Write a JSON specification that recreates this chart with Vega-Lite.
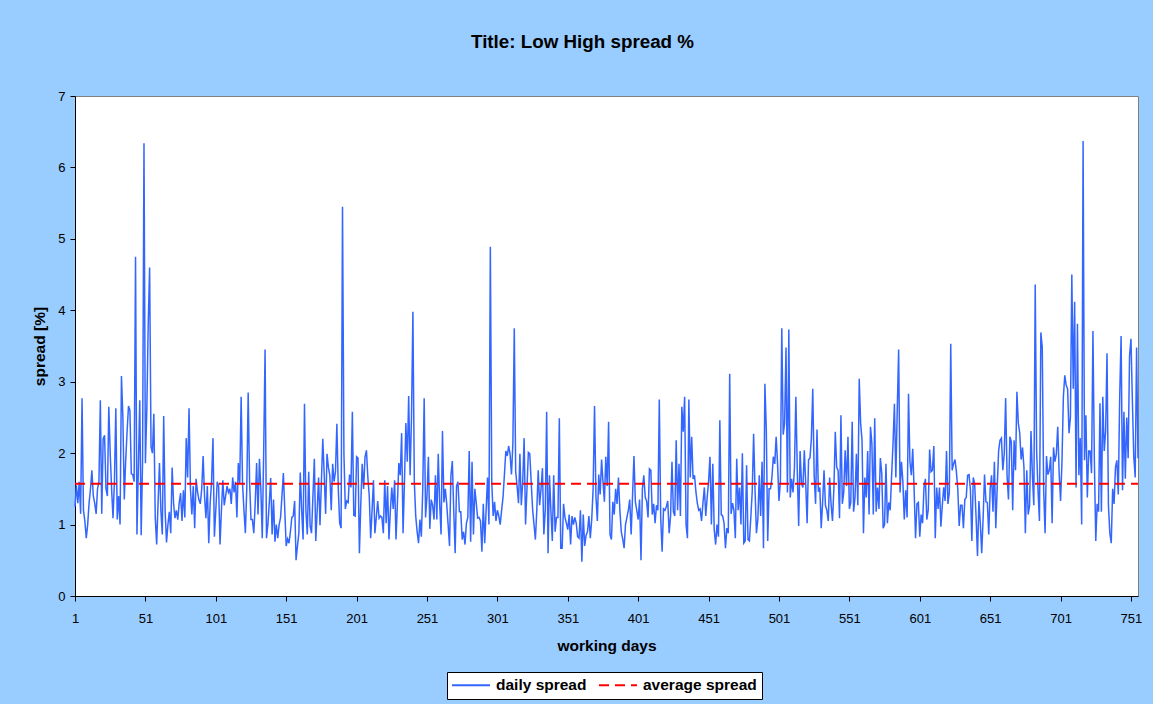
{
"$schema":"https://vega.github.io/schema/vega-lite/v6.json",
"width":1063,"height":500,
"autosize":"none",
"padding":{"left":75,"top":96,"right":15,"bottom":108},
"background":"#99CCFF",
"title":{"text":"Title: Low High spread %","fontSize":18.8,"fontWeight":"bold","font":"Liberation Sans","color":"black","offset":38,"dx":-24,"anchor":"middle"},
"config":{
"font":"Liberation Sans",
"view":{"fill":"white","stroke":"#808080","strokeWidth":1},
"axis":{"grid":false,"domainColor":"black","tickColor":"black","labelColor":"black","titleColor":"black","tickSize":5,"labelFont":"Liberation Sans","titleFont":"Liberation Sans","labelFontSize":13,"titleFontSize":15.5,"titleFontWeight":"bold"},
"legend":{"orient":"none","legendX":372,"legendY":576,"direction":"horizontal","fillColor":"white","strokeColor":"black","padding":5,"symbolType":"M-1.55,0H6.05","symbolSize":100,"symbolStrokeWidth":2,"labelFont":"Liberation Sans","labelFontSize":15.5,"labelFontWeight":"bold","labelColor":"black","labelOffset":28.5,"columnPadding":8}
},
"encoding":{
"x":{"field":"d","type":"quantitative","scale":{"domain":[1,756],"nice":false,"zero":false},"axis":{"values":[1,51,101,151,201,251,301,351,401,451,501,551,601,651,701,751],"title":"working days","labelPadding":11,"titlePadding":13,"labelFlush":false}},
"y":{"field":"v","type":"quantitative","scale":{"domain":[0,7],"nice":false},"axis":{"values":[0,1,2,3,4,5,6,7],"title":"spread [%]","labelPadding":5,"titlePadding":10}}
},
"layer":[
{"data":{"values":[
{"d":1,"v":1.25},{"d":2,"v":1.55},{"d":3,"v":1.3},{"d":4,"v":1.6},{"d":5,"v":1.15},{"d":6,"v":2.77},{"d":7,"v":1.2},{"d":8,"v":1.05},{"d":9,"v":0.81},{"d":10,"v":1.0},
{"d":11,"v":1.3},{"d":12,"v":1.5},{"d":13,"v":1.76},{"d":14,"v":1.4},{"d":15,"v":1.3},{"d":16,"v":1.15},{"d":17,"v":1.5},{"d":18,"v":1.6},{"d":19,"v":2.74},{"d":20,"v":1.15},
{"d":21,"v":2.2},{"d":22,"v":2.25},{"d":23,"v":1.5},{"d":24,"v":1.4},{"d":25,"v":2.65},{"d":26,"v":2.0},{"d":27,"v":1.5},{"d":28,"v":1.09},{"d":29,"v":1.6},{"d":30,"v":2.63},
{"d":31,"v":1.07},{"d":32,"v":1.4},{"d":33,"v":1.0},{"d":34,"v":3.08},{"d":35,"v":2.5},{"d":36,"v":1.35},{"d":37,"v":1.9},{"d":38,"v":2.3},{"d":39,"v":2.66},{"d":40,"v":2.6},
{"d":41,"v":1.71},{"d":42,"v":1.7},{"d":43,"v":1.6},{"d":44,"v":4.75},{"d":45,"v":0.86},{"d":46,"v":1.8},{"d":47,"v":2.74},{"d":48,"v":0.85},{"d":49,"v":1.9},{"d":50,"v":6.34},
{"d":51,"v":1.86},{"d":52,"v":2.6},{"d":53,"v":3.8},{"d":54,"v":4.6},{"d":55,"v":2.09},{"d":56,"v":2.0},{"d":57,"v":2.55},{"d":58,"v":1.1},{"d":59,"v":0.72},{"d":60,"v":1.3},
{"d":61,"v":1.86},{"d":62,"v":1.2},{"d":63,"v":0.86},{"d":64,"v":2.52},{"d":65,"v":1.2},{"d":66,"v":0.75},{"d":67,"v":1.0},{"d":68,"v":1.18},{"d":69,"v":0.88},{"d":70,"v":1.8},
{"d":71,"v":1.3},{"d":72,"v":1.09},{"d":73,"v":1.2},{"d":74,"v":1.07},{"d":75,"v":1.3},{"d":76,"v":1.44},{"d":77,"v":1.05},{"d":78,"v":1.48},{"d":79,"v":1.1},{"d":80,"v":2.21},
{"d":81,"v":1.66},{"d":82,"v":2.63},{"d":83,"v":1.5},{"d":84,"v":1.14},{"d":85,"v":1.54},{"d":86,"v":0.95},{"d":87,"v":1.64},{"d":88,"v":1.46},{"d":89,"v":1.35},{"d":90,"v":1.29},
{"d":91,"v":1.5},{"d":92,"v":1.96},{"d":93,"v":1.4},{"d":94,"v":1.09},{"d":95,"v":1.54},{"d":96,"v":0.74},{"d":97,"v":1.3},{"d":98,"v":1.6},{"d":99,"v":2.21},{"d":100,"v":0.83},
{"d":101,"v":1.2},{"d":102,"v":1.6},{"d":103,"v":1.54},{"d":104,"v":0.72},{"d":105,"v":1.2},{"d":106,"v":1.62},{"d":107,"v":1.27},{"d":108,"v":1.4},{"d":109,"v":1.54},{"d":110,"v":1.45},
{"d":111,"v":1.5},{"d":112,"v":1.29},{"d":113,"v":1.66},{"d":114,"v":1.45},{"d":115,"v":1.6},{"d":116,"v":1.1},{"d":117,"v":1.86},{"d":118,"v":1.57},{"d":119,"v":2.79},{"d":120,"v":1.57},
{"d":121,"v":1.2},{"d":122,"v":0.88},{"d":123,"v":1.5},{"d":124,"v":2.85},{"d":125,"v":1.6},{"d":126,"v":1.07},{"d":127,"v":1.07},{"d":128,"v":0.88},{"d":129,"v":1.3},{"d":130,"v":1.86},
{"d":131,"v":1.14},{"d":132,"v":1.92},{"d":133,"v":1.5},{"d":134,"v":0.81},{"d":135,"v":2.0},{"d":136,"v":3.45},{"d":137,"v":0.81},{"d":138,"v":1.0},{"d":139,"v":1.31},{"d":140,"v":1.65},
{"d":141,"v":0.86},{"d":142,"v":1.35},{"d":143,"v":0.76},{"d":144,"v":1.0},{"d":145,"v":0.81},{"d":146,"v":1.0},{"d":147,"v":1.1},{"d":148,"v":1.4},{"d":149,"v":1.72},{"d":150,"v":1.2},
{"d":151,"v":0.7},{"d":152,"v":0.8},{"d":153,"v":0.74},{"d":154,"v":0.9},{"d":155,"v":1.1},{"d":156,"v":1.12},{"d":157,"v":1.33},{"d":158,"v":0.5},{"d":159,"v":0.7},{"d":160,"v":0.88},
{"d":161,"v":1.73},{"d":162,"v":1.2},{"d":163,"v":0.79},{"d":164,"v":2.69},{"d":165,"v":1.2},{"d":166,"v":0.86},{"d":167,"v":1.74},{"d":168,"v":0.98},{"d":169,"v":0.88},{"d":170,"v":1.4},
{"d":171,"v":1.92},{"d":172,"v":0.77},{"d":173,"v":1.2},{"d":174,"v":1.66},{"d":175,"v":0.99},{"d":176,"v":1.6},{"d":177,"v":2.2},{"d":178,"v":1.7},{"d":179,"v":1.15},{"d":180,"v":1.99},
{"d":181,"v":1.8},{"d":182,"v":1.69},{"d":183,"v":1.2},{"d":184,"v":1.85},{"d":185,"v":1.6},{"d":186,"v":1.74},{"d":187,"v":2.41},{"d":188,"v":1.5},{"d":189,"v":1.02},{"d":190,"v":0.95},
{"d":191,"v":5.45},{"d":192,"v":2.0},{"d":193,"v":1.22},{"d":194,"v":1.33},{"d":195,"v":1.31},{"d":196,"v":1.7},{"d":197,"v":1.52},{"d":198,"v":2.58},{"d":199,"v":1.13},{"d":200,"v":1.12},
{"d":201,"v":1.95},{"d":202,"v":1.93},{"d":203,"v":0.6},{"d":204,"v":1.3},{"d":205,"v":1.85},{"d":206,"v":1.5},{"d":207,"v":1.95},{"d":208,"v":2.04},{"d":209,"v":1.66},{"d":210,"v":1.4},
{"d":211,"v":0.81},{"d":212,"v":1.2},{"d":213,"v":1.62},{"d":214,"v":0.88},{"d":215,"v":1.1},{"d":216,"v":1.33},{"d":217,"v":1.09},{"d":218,"v":1.12},{"d":219,"v":1.1},{"d":220,"v":0.88},
{"d":221,"v":1.62},{"d":222,"v":1.02},{"d":223,"v":1.54},{"d":224,"v":0.79},{"d":225,"v":1.2},{"d":226,"v":1.52},{"d":227,"v":1.22},{"d":228,"v":1.62},{"d":229,"v":0.79},{"d":230,"v":1.3},
{"d":231,"v":1.86},{"d":232,"v":1.69},{"d":233,"v":2.28},{"d":234,"v":0.88},{"d":235,"v":1.6},{"d":236,"v":2.42},{"d":237,"v":1.88},{"d":238,"v":2.8},{"d":239,"v":1.69},{"d":240,"v":2.5},
{"d":241,"v":3.98},{"d":242,"v":1.6},{"d":243,"v":1.12},{"d":244,"v":0.9},{"d":245,"v":0.74},{"d":246,"v":1.07},{"d":247,"v":0.83},{"d":248,"v":1.5},{"d":249,"v":2.77},{"d":250,"v":1.1},
{"d":251,"v":1.4},{"d":252,"v":1.95},{"d":253,"v":0.94},{"d":254,"v":1.35},{"d":255,"v":1.27},{"d":256,"v":1.07},{"d":257,"v":1.69},{"d":258,"v":1.07},{"d":259,"v":1.99},{"d":260,"v":1.3},
{"d":261,"v":0.86},{"d":262,"v":2.31},{"d":263,"v":1.31},{"d":264,"v":1.5},{"d":265,"v":1.29},{"d":266,"v":1.0},{"d":267,"v":0.7},{"d":268,"v":1.69},{"d":269,"v":1.89},{"d":270,"v":1.2},
{"d":271,"v":0.6},{"d":272,"v":1.54},{"d":273,"v":1.6},{"d":274,"v":1.18},{"d":275,"v":1.18},{"d":276,"v":0.79},{"d":277,"v":0.9},{"d":278,"v":0.72},{"d":279,"v":1.02},{"d":280,"v":1.1},
{"d":281,"v":2.03},{"d":282,"v":0.76},{"d":283,"v":1.88},{"d":284,"v":0.86},{"d":285,"v":1.5},{"d":286,"v":1.3},{"d":287,"v":1.09},{"d":288,"v":1.1},{"d":289,"v":1.05},{"d":290,"v":0.62},
{"d":291,"v":1.29},{"d":292,"v":0.74},{"d":293,"v":1.2},{"d":294,"v":1.66},{"d":295,"v":1.0},{"d":296,"v":4.89},{"d":297,"v":1.6},{"d":298,"v":1.12},{"d":299,"v":1.32},{"d":300,"v":1.05},
{"d":301,"v":1.2},{"d":302,"v":1.12},{"d":303,"v":1.0},{"d":304,"v":1.2},{"d":305,"v":1.38},{"d":306,"v":1.7},{"d":307,"v":2.03},{"d":308,"v":1.96},{"d":309,"v":2.1},{"d":310,"v":1.99},
{"d":311,"v":1.7},{"d":312,"v":2.13},{"d":313,"v":3.75},{"d":314,"v":1.74},{"d":315,"v":1.54},{"d":316,"v":1.3},{"d":317,"v":1.99},{"d":318,"v":1.27},{"d":319,"v":1.6},{"d":320,"v":2.21},
{"d":321,"v":1.0},{"d":322,"v":1.5},{"d":323,"v":2.01},{"d":324,"v":1.99},{"d":325,"v":1.6},{"d":326,"v":1.22},{"d":327,"v":1.0},{"d":328,"v":0.79},{"d":329,"v":1.2},{"d":330,"v":1.76},
{"d":331,"v":1.27},{"d":332,"v":1.5},{"d":333,"v":1.79},{"d":334,"v":0.86},{"d":335,"v":1.2},{"d":336,"v":2.58},{"d":337,"v":0.6},{"d":338,"v":1.69},{"d":339,"v":1.2},{"d":340,"v":0.77},
{"d":341,"v":1.69},{"d":342,"v":0.9},{"d":343,"v":1.1},{"d":344,"v":1.1},{"d":345,"v":2.49},{"d":346,"v":0.67},{"d":347,"v":0.67},{"d":348,"v":1.29},{"d":349,"v":1.1},{"d":350,"v":1.02},
{"d":351,"v":0.93},{"d":352,"v":1.14},{"d":353,"v":0.72},{"d":354,"v":1.12},{"d":355,"v":1.0},{"d":356,"v":1.1},{"d":357,"v":1.02},{"d":358,"v":0.83},{"d":359,"v":0.81},{"d":360,"v":1.2},
{"d":361,"v":0.48},{"d":362,"v":1.14},{"d":363,"v":0.7},{"d":364,"v":0.85},{"d":365,"v":0.9},{"d":366,"v":1.12},{"d":367,"v":0.81},{"d":368,"v":1.07},{"d":369,"v":1.5},{"d":370,"v":2.66},
{"d":371,"v":1.4},{"d":372,"v":1.05},{"d":373,"v":1.7},{"d":374,"v":1.42},{"d":375,"v":1.91},{"d":376,"v":1.6},{"d":377,"v":1.32},{"d":378,"v":1.95},{"d":379,"v":1.54},{"d":380,"v":2.44},
{"d":381,"v":0.86},{"d":382,"v":0.79},{"d":383,"v":1.32},{"d":384,"v":1.14},{"d":385,"v":1.5},{"d":386,"v":1.29},{"d":387,"v":1.66},{"d":388,"v":1.2},{"d":389,"v":0.9},{"d":390,"v":0.8},
{"d":391,"v":0.67},{"d":392,"v":1.0},{"d":393,"v":1.1},{"d":394,"v":1.2},{"d":395,"v":1.35},{"d":396,"v":0.86},{"d":397,"v":1.4},{"d":398,"v":1.96},{"d":399,"v":1.32},{"d":400,"v":1.2},
{"d":401,"v":1.07},{"d":402,"v":1.35},{"d":403,"v":0.5},{"d":404,"v":1.5},{"d":405,"v":1.69},{"d":406,"v":1.38},{"d":407,"v":1.33},{"d":408,"v":1.1},{"d":409,"v":1.78},{"d":410,"v":1.76},
{"d":411,"v":1.14},{"d":412,"v":1.29},{"d":413,"v":1.02},{"d":414,"v":1.27},{"d":415,"v":1.2},{"d":416,"v":2.75},{"d":417,"v":1.1},{"d":418,"v":0.62},{"d":419,"v":1.22},{"d":420,"v":1.2},
{"d":421,"v":1.25},{"d":422,"v":1.33},{"d":423,"v":0.88},{"d":424,"v":1.12},{"d":425,"v":1.88},{"d":426,"v":1.18},{"d":427,"v":1.12},{"d":428,"v":2.18},{"d":429,"v":1.2},{"d":430,"v":1.85},
{"d":431,"v":1.12},{"d":432,"v":2.65},{"d":433,"v":2.3},{"d":434,"v":2.79},{"d":435,"v":1.0},{"d":436,"v":0.81},{"d":437,"v":2.75},{"d":438,"v":1.66},{"d":439,"v":2.23},{"d":440,"v":1.64},
{"d":441,"v":1.69},{"d":442,"v":1.46},{"d":443,"v":1.3},{"d":444,"v":1.2},{"d":445,"v":1.22},{"d":446,"v":1.05},{"d":447,"v":1.3},{"d":448,"v":1.52},{"d":449,"v":1.12},{"d":450,"v":1.38},
{"d":451,"v":1.6},{"d":452,"v":1.95},{"d":453,"v":1.0},{"d":454,"v":1.85},{"d":455,"v":0.93},{"d":456,"v":0.72},{"d":457,"v":1.0},{"d":458,"v":0.83},{"d":459,"v":2.46},{"d":460,"v":1.14},
{"d":461,"v":1.12},{"d":462,"v":1.02},{"d":463,"v":0.67},{"d":464,"v":0.95},{"d":465,"v":0.88},{"d":466,"v":3.11},{"d":467,"v":1.15},{"d":468,"v":1.3},{"d":469,"v":1.2},{"d":470,"v":0.81},
{"d":471,"v":1.92},{"d":472,"v":1.2},{"d":473,"v":1.52},{"d":474,"v":1.0},{"d":475,"v":2.0},{"d":476,"v":0.74},{"d":477,"v":0.77},{"d":478,"v":1.83},{"d":479,"v":0.79},{"d":480,"v":0.77},
{"d":481,"v":1.1},{"d":482,"v":1.46},{"d":483,"v":2.27},{"d":484,"v":1.48},{"d":485,"v":0.88},{"d":486,"v":1.07},{"d":487,"v":1.69},{"d":488,"v":1.12},{"d":489,"v":1.88},{"d":490,"v":0.67},
{"d":491,"v":2.97},{"d":492,"v":2.33},{"d":493,"v":0.77},{"d":494,"v":1.5},{"d":495,"v":1.5},{"d":496,"v":1.66},{"d":497,"v":1.95},{"d":498,"v":1.85},{"d":499,"v":2.23},{"d":500,"v":1.85},
{"d":501,"v":1.33},{"d":502,"v":1.6},{"d":503,"v":3.75},{"d":504,"v":2.26},{"d":505,"v":2.42},{"d":506,"v":3.48},{"d":507,"v":1.45},{"d":508,"v":3.73},{"d":509,"v":1.38},{"d":510,"v":1.64},
{"d":511,"v":1.45},{"d":512,"v":1.8},{"d":513,"v":2.79},{"d":514,"v":1.76},{"d":515,"v":0.98},{"d":516,"v":2.03},{"d":517,"v":1.57},{"d":518,"v":1.52},{"d":519,"v":2.04},{"d":520,"v":1.57},
{"d":521,"v":1.02},{"d":522,"v":1.91},{"d":523,"v":1.93},{"d":524,"v":2.2},{"d":525,"v":2.9},{"d":526,"v":1.69},{"d":527,"v":1.29},{"d":528,"v":2.33},{"d":529,"v":1.46},{"d":530,"v":1.52},
{"d":531,"v":0.95},{"d":532,"v":1.31},{"d":533,"v":1.76},{"d":534,"v":1.27},{"d":535,"v":1.2},{"d":536,"v":1.05},{"d":537,"v":1.66},{"d":538,"v":1.29},{"d":539,"v":1.05},{"d":540,"v":1.5},
{"d":541,"v":2.3},{"d":542,"v":1.8},{"d":543,"v":1.76},{"d":544,"v":1.09},{"d":545,"v":2.53},{"d":546,"v":1.29},{"d":547,"v":1.45},{"d":548,"v":2.04},{"d":549,"v":1.54},{"d":550,"v":2.23},
{"d":551,"v":1.22},{"d":552,"v":1.31},{"d":553,"v":2.44},{"d":554,"v":1.18},{"d":555,"v":1.38},{"d":556,"v":1.99},{"d":557,"v":1.27},{"d":558,"v":3.04},{"d":559,"v":2.42},{"d":560,"v":2.18},
{"d":561,"v":0.88},{"d":562,"v":1.66},{"d":563,"v":1.38},{"d":564,"v":2.03},{"d":565,"v":1.14},{"d":566,"v":2.37},{"d":567,"v":2.13},{"d":568,"v":1.14},{"d":569,"v":2.49},{"d":570,"v":1.18},
{"d":571,"v":1.52},{"d":572,"v":1.22},{"d":573,"v":1.93},{"d":574,"v":1.72},{"d":575,"v":0.95},{"d":576,"v":1.0},{"d":577,"v":1.85},{"d":578,"v":1.02},{"d":579,"v":1.31},{"d":580,"v":1.2},
{"d":581,"v":1.69},{"d":582,"v":2.13},{"d":583,"v":2.69},{"d":584,"v":1.66},{"d":585,"v":2.6},{"d":586,"v":3.45},{"d":587,"v":1.45},{"d":588,"v":1.88},{"d":589,"v":1.6},{"d":590,"v":1.07},
{"d":591,"v":1.48},{"d":592,"v":1.1},{"d":593,"v":2.83},{"d":594,"v":1.88},{"d":595,"v":1.69},{"d":596,"v":2.06},{"d":597,"v":1.48},{"d":598,"v":0.81},{"d":599,"v":1.29},{"d":600,"v":1.31},
{"d":601,"v":0.83},{"d":602,"v":1.14},{"d":603,"v":1.02},{"d":604,"v":1.52},{"d":605,"v":1.64},{"d":606,"v":1.07},{"d":607,"v":1.2},{"d":608,"v":2.05},{"d":609,"v":1.74},{"d":610,"v":1.76},
{"d":611,"v":2.1},{"d":612,"v":0.81},{"d":613,"v":1.52},{"d":614,"v":1.22},{"d":615,"v":1.52},{"d":616,"v":0.97},{"d":617,"v":1.27},{"d":618,"v":1.52},{"d":619,"v":1.33},{"d":620,"v":2.03},
{"d":621,"v":1.29},{"d":622,"v":1.45},{"d":623,"v":3.53},{"d":624,"v":1.76},{"d":625,"v":1.85},{"d":626,"v":1.91},{"d":627,"v":1.74},{"d":628,"v":1.5},{"d":629,"v":0.98},{"d":630,"v":1.27},
{"d":631,"v":1.27},{"d":632,"v":0.95},{"d":633,"v":1.35},{"d":634,"v":1.38},{"d":635,"v":1.69},{"d":636,"v":1.7},{"d":637,"v":1.48},{"d":638,"v":0.77},{"d":639,"v":1.66},{"d":640,"v":1.57},
{"d":641,"v":1.1},{"d":642,"v":0.56},{"d":643,"v":1.33},{"d":644,"v":1.02},{"d":645,"v":0.6},{"d":646,"v":1.09},{"d":647,"v":1.7},{"d":648,"v":1.32},{"d":649,"v":1.31},{"d":650,"v":0.86},
{"d":651,"v":1.5},{"d":652,"v":1.69},{"d":653,"v":1.18},{"d":654,"v":1.88},{"d":655,"v":0.95},{"d":656,"v":1.52},{"d":657,"v":2.03},{"d":658,"v":2.18},{"d":659,"v":2.21},{"d":660,"v":1.76},
{"d":661,"v":1.99},{"d":662,"v":2.77},{"d":663,"v":1.69},{"d":664,"v":1.35},{"d":665,"v":2.23},{"d":666,"v":2.16},{"d":667,"v":1.2},{"d":668,"v":2.18},{"d":669,"v":1.76},{"d":670,"v":2.86},
{"d":671,"v":2.42},{"d":672,"v":2.28},{"d":673,"v":1.91},{"d":674,"v":2.08},{"d":675,"v":1.8},{"d":676,"v":0.88},{"d":677,"v":1.76},{"d":678,"v":1.14},{"d":679,"v":1.27},{"d":680,"v":2.31},
{"d":681,"v":1.69},{"d":682,"v":1.27},{"d":683,"v":4.36},{"d":684,"v":2.03},{"d":685,"v":1.48},{"d":686,"v":1.05},{"d":687,"v":3.69},{"d":688,"v":3.48},{"d":689,"v":1.48},{"d":690,"v":0.88},
{"d":691,"v":1.96},{"d":692,"v":1.7},{"d":693,"v":1.76},{"d":694,"v":1.95},{"d":695,"v":1.02},{"d":696,"v":2.08},{"d":697,"v":1.88},{"d":698,"v":1.99},{"d":699,"v":2.37},{"d":700,"v":1.72},
{"d":701,"v":1.33},{"d":702,"v":1.88},{"d":703,"v":2.79},{"d":704,"v":3.09},{"d":705,"v":2.95},{"d":706,"v":2.9},{"d":707,"v":2.28},{"d":708,"v":2.5},{"d":709,"v":4.5},{"d":710,"v":2.9},
{"d":711,"v":4.12},{"d":712,"v":1.52},{"d":713,"v":3.81},{"d":714,"v":1.69},{"d":715,"v":2.21},{"d":716,"v":1.0},{"d":717,"v":6.37},{"d":718,"v":1.9},{"d":719,"v":2.53},{"d":720,"v":1.38},
{"d":721,"v":2.03},{"d":722,"v":2.03},{"d":723,"v":1.72},{"d":724,"v":3.71},{"d":725,"v":1.91},{"d":726,"v":0.77},{"d":727,"v":1.29},{"d":728,"v":1.18},{"d":729,"v":2.7},{"d":730,"v":1.18},
{"d":731,"v":2.79},{"d":732,"v":2.03},{"d":733,"v":2.3},{"d":734,"v":3.4},{"d":735,"v":1.27},{"d":736,"v":0.88},{"d":737,"v":0.74},{"d":738,"v":1.5},{"d":739,"v":1.29},{"d":740,"v":1.8},
{"d":741,"v":1.9},{"d":742,"v":1.42},{"d":743,"v":2.79},{"d":744,"v":3.64},{"d":745,"v":1.48},{"d":746,"v":2.58},{"d":747,"v":1.64},{"d":748,"v":2.5},{"d":749,"v":1.93},{"d":750,"v":3.36},
{"d":751,"v":3.6},{"d":752,"v":2.74},{"d":753,"v":1.95},{"d":754,"v":1.66},{"d":755,"v":3.48},{"d":756,"v":1.93}
]},
"mark":{"type":"line","strokeWidth":1.5,"interpolate":"linear"},
"encoding":{
"color":{"datum":"daily spread","type":"nominal","scale":{"domain":["daily spread","average spread"],"range":["#3366FF","#FF0000"]},"legend":{"title":null}},
"strokeDash":{"datum":"daily spread","type":"nominal","scale":{"domain":["daily spread","average spread"],"range":[[1,0],[10,6]]},"legend":{"title":null}}
}},
{"data":{"values":[{"d":1,"v":1.57},{"d":756,"v":1.57}]},
"mark":{"type":"line","strokeWidth":2},
"encoding":{
"color":{"datum":"average spread","type":"nominal"},
"strokeDash":{"datum":"average spread","type":"nominal"}
}}
]
}
